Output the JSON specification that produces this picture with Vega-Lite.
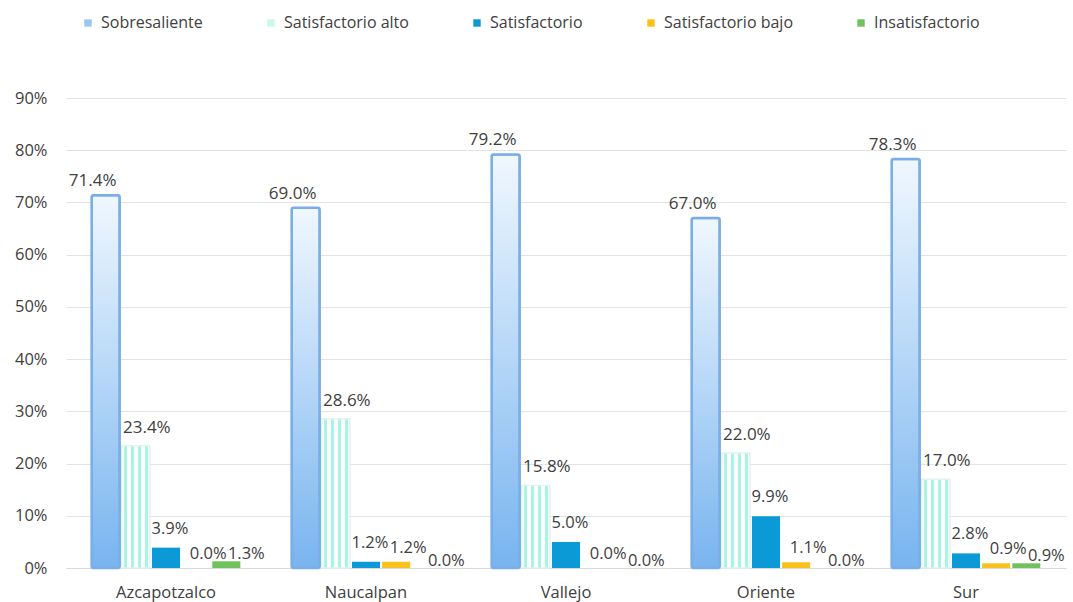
{
  "$schema": "https://vega.github.io/schema/vega-lite/v6.json",
  "width": 1000,
  "height": 470,
  "autosize": "none",
  "padding": {"left": 66, "top": 98, "right": 7, "bottom": 34},
  "background": "white",
  "config": {
    "font": "Open Sans",
    "view": {"stroke": null}
  },
  "data": {
    "values": [
      {"plantel": "Azcapotzalco", "nivel": "Sobresaliente", "valor": 0.714},
      {"plantel": "Azcapotzalco", "nivel": "Satisfactorio alto", "valor": 0.234},
      {"plantel": "Azcapotzalco", "nivel": "Satisfactorio", "valor": 0.039},
      {"plantel": "Azcapotzalco", "nivel": "Satisfactorio bajo", "valor": 0.0},
      {"plantel": "Azcapotzalco", "nivel": "Insatisfactorio", "valor": 0.013},
      {"plantel": "Naucalpan", "nivel": "Sobresaliente", "valor": 0.69},
      {"plantel": "Naucalpan", "nivel": "Satisfactorio alto", "valor": 0.286},
      {"plantel": "Naucalpan", "nivel": "Satisfactorio", "valor": 0.012},
      {"plantel": "Naucalpan", "nivel": "Satisfactorio bajo", "valor": 0.012},
      {"plantel": "Naucalpan", "nivel": "Insatisfactorio", "valor": 0.0},
      {"plantel": "Vallejo", "nivel": "Sobresaliente", "valor": 0.792},
      {"plantel": "Vallejo", "nivel": "Satisfactorio alto", "valor": 0.158},
      {"plantel": "Vallejo", "nivel": "Satisfactorio", "valor": 0.05},
      {"plantel": "Vallejo", "nivel": "Satisfactorio bajo", "valor": 0.0},
      {"plantel": "Vallejo", "nivel": "Insatisfactorio", "valor": 0.0},
      {"plantel": "Oriente", "nivel": "Sobresaliente", "valor": 0.67},
      {"plantel": "Oriente", "nivel": "Satisfactorio alto", "valor": 0.22},
      {"plantel": "Oriente", "nivel": "Satisfactorio", "valor": 0.099},
      {"plantel": "Oriente", "nivel": "Satisfactorio bajo", "valor": 0.011},
      {"plantel": "Oriente", "nivel": "Insatisfactorio", "valor": 0.0},
      {"plantel": "Sur", "nivel": "Sobresaliente", "valor": 0.783},
      {"plantel": "Sur", "nivel": "Satisfactorio alto", "valor": 0.17},
      {"plantel": "Sur", "nivel": "Satisfactorio", "valor": 0.028},
      {"plantel": "Sur", "nivel": "Satisfactorio bajo", "valor": 0.009},
      {"plantel": "Sur", "nivel": "Insatisfactorio", "valor": 0.009}
    ]
  },
  "encoding": {
    "x": {
      "field": "plantel",
      "type": "nominal",
      "sort": ["Azcapotzalco", "Naucalpan", "Vallejo", "Oriente", "Sur"],
      "scale": {"paddingInner": 0, "paddingOuter": 0},
      "axis": {
        "title": null,
        "labelAngle": 0,
        "labelFontSize": 16.5,
        "labelColor": "#404040",
        "labelPadding": 16,
        "ticks": false,
        "domain": true,
        "domainColor": "#d9d9d9",
        "domainWidth": 1
      }
    },
    "xOffset": {
      "field": "nivel",
      "type": "nominal",
      "sort": ["Sobresaliente", "Satisfactorio alto", "Satisfactorio", "Satisfactorio bajo", "Insatisfactorio"],
      "scale": {"paddingInner": 0.07, "paddingOuter": 0.85}
    },
    "y": {
      "field": "valor",
      "type": "quantitative",
      "scale": {"domain": [0, 0.9], "nice": false},
      "axis": {
        "title": null,
        "values": [0, 0.1, 0.2, 0.3, 0.4, 0.5, 0.6, 0.7, 0.8, 0.9],
        "format": ".0%",
        "labelFontSize": 16.5,
        "labelColor": "#404040",
        "labelPadding": 19,
        "ticks": false,
        "domain": false,
        "grid": true,
        "gridColor": "#e3e3e3",
        "gridWidth": 1
      }
    }
  },
  "layer": [
    {
      "mark": {"type": "bar"},
      "encoding": {
        "color": {
          "field": "nivel",
          "type": "nominal",
          "sort": ["Sobresaliente", "Satisfactorio alto", "Satisfactorio", "Satisfactorio bajo", "Insatisfactorio"],
          "scale": {
            "domain": ["Sobresaliente", "Satisfactorio alto", "Satisfactorio", "Satisfactorio bajo", "Insatisfactorio"],
            "range": ["#9cc6f1", "#c9f9ec", "#0b9ad6", "#f9c11c", "#70c35c"]
          },
          "legend": {
            "title": null,
            "orient": "none",
            "legendX": 14,
            "legendY": -83,
            "direction": "horizontal",
            "symbolType": "square",
            "symbolSize": 55,
            "symbolStrokeWidth": 0,
            "labelFontSize": 16,
            "labelColor": "#404040",
            "labelOffset": 5,
            "columnPadding": 60
          }
        }
      }
    },
    {
      "transform": [{"filter": "datum.nivel === 'Sobresaliente'"}],
      "mark": {
        "type": "bar",
        "cornerRadius": 2,
        "stroke": "#7aaee8",
        "strokeWidth": 2.5,
        "color": {
          "gradient": "linear",
          "x1": 0, "y1": 0, "x2": 0, "y2": 1,
          "stops": [
            {"offset": 0, "color": "#f0f7fe"},
            {"offset": 0.5, "color": "#b4d6f7"},
            {"offset": 1, "color": "#78b4ef"}
          ]
        }
      }
    },
    {
      "transform": [{"filter": "datum.nivel === 'Satisfactorio alto'"}],
      "mark": {
        "type": "bar",
        "stroke": "#e2f3ec",
        "strokeWidth": 1.5,
        "color": {
          "gradient": "linear",
          "x1": 0, "y1": 0, "x2": 1, "y2": 0,
          "stops": [
            {"offset": 0, "color": "#ffffff"},
            {"offset": 0.08, "color": "#ffffff"},
            {"offset": 0.08, "color": "#a6f6e3"},
            {"offset": 0.2, "color": "#a6f6e3"},
            {"offset": 0.2, "color": "#ffffff"},
            {"offset": 0.33, "color": "#ffffff"},
            {"offset": 0.33, "color": "#a6f6e3"},
            {"offset": 0.45, "color": "#a6f6e3"},
            {"offset": 0.45, "color": "#ffffff"},
            {"offset": 0.58, "color": "#ffffff"},
            {"offset": 0.58, "color": "#a6f6e3"},
            {"offset": 0.7, "color": "#a6f6e3"},
            {"offset": 0.7, "color": "#ffffff"},
            {"offset": 0.83, "color": "#ffffff"},
            {"offset": 0.83, "color": "#a6f6e3"},
            {"offset": 0.93, "color": "#a6f6e3"},
            {"offset": 0.93, "color": "#ffffff"},
            {"offset": 1, "color": "#ffffff"}
          ]
        }
      }
    },
    {
      "transform": [{"filter": "datum.nivel === 'Sobresaliente'"}],
      "mark": {"type": "text", "dx": -13, "dy": -14, "fontSize": 17, "color": "#404040"},
      "encoding": {"text": {"field": "valor", "type": "quantitative", "format": ".1%"}}
    },
    {
      "transform": [{"filter": "datum.nivel === 'Satisfactorio alto'"}],
      "mark": {"type": "text", "dx": 11, "dy": -18, "fontSize": 17, "color": "#404040"},
      "encoding": {"text": {"field": "valor", "type": "quantitative", "format": ".1%"}}
    },
    {
      "transform": [{"filter": "datum.nivel === 'Satisfactorio'"}],
      "mark": {"type": "text", "dx": 4, "dy": -19, "fontSize": 16.5, "color": "#404040"},
      "encoding": {"text": {"field": "valor", "type": "quantitative", "format": ".1%"}}
    },
    {
      "transform": [{"filter": "datum.nivel === 'Satisfactorio bajo'"}],
      "mark": {"type": "text", "dx": 12, "dy": -14, "fontSize": 16.5, "color": "#404040"},
      "encoding": {"text": {"field": "valor", "type": "quantitative", "format": ".1%"}}
    },
    {
      "transform": [{"filter": "datum.nivel === 'Insatisfactorio'"}],
      "mark": {"type": "text", "dx": 20, "dy": -7, "fontSize": 16.5, "color": "#404040"},
      "encoding": {"text": {"field": "valor", "type": "quantitative", "format": ".1%"}}
    }
  ]
}
